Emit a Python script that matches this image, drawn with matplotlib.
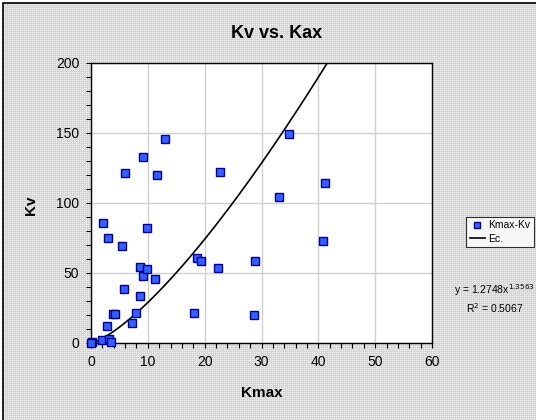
import matplotlib
matplotlib.use("Agg")
from matplotlib import pyplot as plt
from matplotlib.patches import Rectangle
from matplotlib.ticker import MultipleLocator
import numpy as np

# DATA
kmax = [0.1, 0.0, 1.9, 3.2, 3.6, 2.9, 2.05, 3.0, 5.4, 3.9, 4.3, 5.8,
        8.7, 9.15, 9.9, 9.9, 11.3, 8.7, 8.0, 7.3, 18.7, 19.3, 22.3,
        28.8, 18.1, 28.6, 6.05, 9.2, 13.1, 11.7, 22.7, 34.9, 41.2,
        33.0, 40.8]
kv = [0.7, 0.0, 2.1, 3.0, 0.5, 12.0, 85.7, 75.0, 69.0, 20.7, 20.7, 38.6,
      54.3, 48.0, 52.9, 81.9, 45.7, 33.6, 21.2, 14.0, 61.0, 58.6, 53.3,
      58.6, 21.2, 19.8, 121.6, 133.1, 145.7, 120.2, 122.4, 149.0, 114.3,
      104.5, 73.0]

# power trendline y = a * x^b
FIT_A = 1.2748
FIT_B = 1.3563
FIT_R2 = 0.5067

W, H = 536, 420
DPI = 100

plt.rcParams["font.family"] = ["Liberation Sans", "DejaVu Sans"]

fig = plt.figure(figsize=(W / DPI, H / DPI), dpi=DPI)
fig.patch.set_alpha(0)

# dotted gray background like the spreadsheet chart area
yy, xx = np.mgrid[0:H, 0:W]
bg = np.where((xx % 2 == 0) & (yy % 2 == 0), 0.95, 0.84)
bg = np.dstack([bg, bg, bg])
bg[:3, :, :] = 1.0
bg[:, :3, :] = 1.0
fig.figimage(bg, xo=0, yo=0, origin="upper", zorder=-10)
fig.patches.append(Rectangle((3 / W, -0.1), 1.2, (H - 3) / H + 0.1,
                             transform=fig.transFigure, fill=False,
                             edgecolor="black", linewidth=1.2, zorder=-5))

ax = fig.add_axes([91 / W, 1 - 343 / H, (432 - 91) / W, (343 - 63) / H])
ax.set_facecolor("white")

# trendline
x_fit = np.linspace(0, 60, 600)
y_fit = FIT_A * x_fit ** FIT_B
ax.plot(x_fit, y_fit, color="black", linewidth=1.2, label="Ec.", zorder=3)

# points
ax.plot(kmax, kv, linestyle="none", marker="s", markersize=6,
        markerfacecolor="#3560ff", markeredgecolor="#000090",
        markeredgewidth=1.0, label="Kmax-Kv", zorder=4, clip_on=False)

ax.set_xlim(0, 60)
ax.set_ylim(0, 200)
ax.xaxis.set_major_locator(MultipleLocator(10))
ax.xaxis.set_minor_locator(MultipleLocator(2))
ax.yaxis.set_major_locator(MultipleLocator(50))
ax.yaxis.set_minor_locator(MultipleLocator(10))
ax.grid(which="major", color="#d0d0d0", linewidth=1.0)
ax.set_axisbelow(True)
ax.tick_params(which="both", direction="out", length=3.5, width=0.8,
               labelsize=10, colors="black")
ax.tick_params(which="major", pad=5)
for s in ax.spines.values():
    s.set_color("black")
    s.set_linewidth(1.0)

fig.text(277 / W, 1 - 34 / H, "Kv vs. Kax", ha="center", va="center",
         fontsize=13, fontweight="bold")
fig.text(262 / W, 1 - 393 / H, "Kmax", ha="center", va="center",
         fontsize=11, fontweight="bold")
fig.text(31 / W, 1 - 205 / H, "Kv", ha="center", va="center",
         fontsize=11, fontweight="bold", rotation=90)

# legend
handles, labels = ax.get_legend_handles_labels()
leg = fig.legend(handles[::-1], labels[::-1], loc="center",
                 bbox_to_anchor=(500 / W, 1 - 232 / H), fontsize=7.5,
                 frameon=True, fancybox=False, edgecolor="black",
                 handlelength=1.5, handletextpad=0.3, borderpad=0.3,
                 labelspacing=0.3, borderaxespad=0, markerscale=0.8)
leg.get_frame().set_linewidth(0.8)

fig.text(494 / W, 1 - 290 / H,
         f"y = {FIT_A}x$^{{{FIT_B}}}$", ha="center", va="center",
         fontsize=7.5)
fig.text(495 / W, 1 - 308 / H, f"R$^2$ = {FIT_R2}", ha="center",
         va="center", fontsize=7.5)

fig.savefig("out.png", dpi=DPI)
